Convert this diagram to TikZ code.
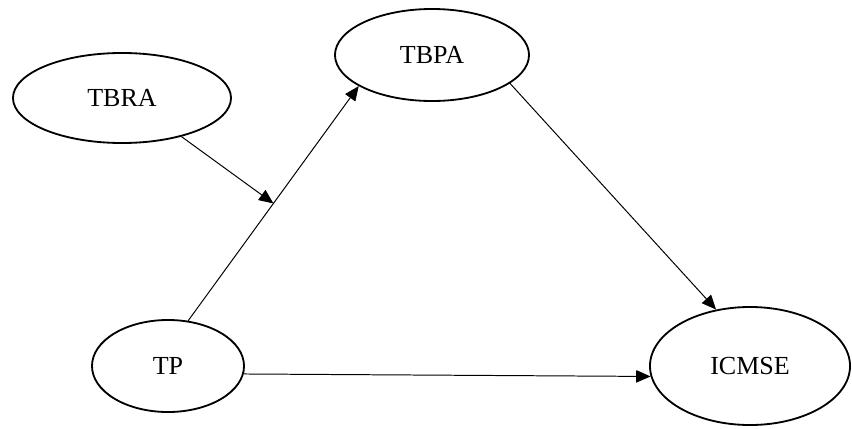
\documentclass[tikz,border=0pt]{standalone}
\usepackage{fontspec}
\setmainfont{Liberation Serif}
\usepackage{tikz}
\usetikzlibrary{arrows.meta,shapes.geometric}

\begin{document}
\begin{tikzpicture}[x=0.025cm,y=-0.025cm,>={Triangle[length=3.6mm,width=3.1mm]},
  var/.style={draw,ellipse,line width=1.3pt,inner sep=0pt,font=\fontsize{18.5}{21}\selectfont}]
\useasboundingbox (0,0) rectangle (852,428);
\node[var,minimum width=5.45cm,minimum height=2.25cm] (tbra) at (122,98) {TBRA};
\node[var,minimum width=4.85cm,minimum height=2.3cm] (tbpa) at (432,55) {TBPA};
\node[var,minimum width=3.8cm,minimum height=2.3cm] (tp) at (168,366) {TP};
\node[var,minimum width=5cm,minimum height=2.95cm] (icmse) at (750,366) {ICMSE};
\draw[->,line width=0.7pt] (tp.66) -- (tbpa.-157) coordinate[pos=0.5] (mod);
\draw[->,line width=0.7pt] (tbra.-33) -- (mod);
\draw[->,line width=0.7pt] (tbpa.-20) -- (icmse.121);
\draw[->,line width=0.7pt] (tp.-6) -- (icmse.-174);
\end{tikzpicture}
\end{document}
